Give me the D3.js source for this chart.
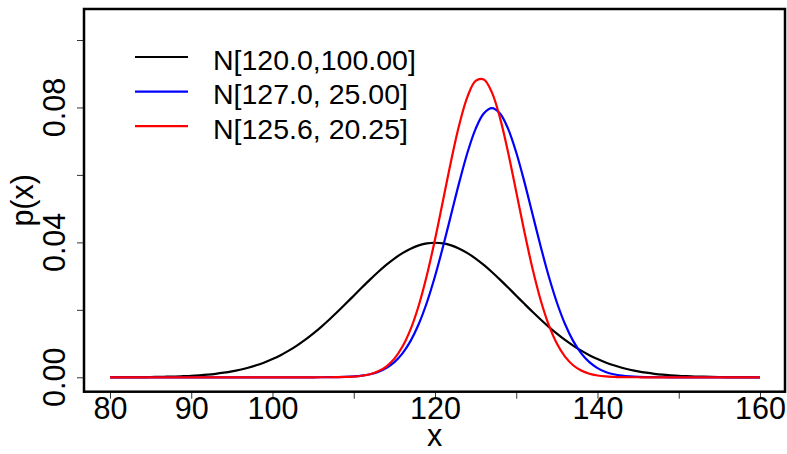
<!DOCTYPE html>
<html>
<head>
<meta charset="utf-8">
<script src="https://cdn.jsdelivr.net/npm/d3@7"></script>
<style>
  body { margin: 0; background: #fff; }
  svg { display: block; font-family: "Liberation Sans", Arial, sans-serif; }
</style>
</head>
<body>
<div id="chart"></div>
<script>
// x grid (step 1) and density values
const xs = d3.range(80, 161);

const blackVals = [
  0.00001, 0.00002, 0.00003, 0.00004, 0.00006, 0.00009, 0.00012, 0.00017, 0.00024, 0.00033,
  0.00044, 0.00060, 0.00079, 0.00104, 0.00136, 0.00175, 0.00224, 0.00283, 0.00355, 0.00440,
  0.00540, 0.00656, 0.00790, 0.00941, 0.01109, 0.01295, 0.01497, 0.01714, 0.01942, 0.02179,
  0.02420, 0.02661, 0.02897, 0.03123, 0.03332, 0.03521, 0.03683, 0.03814, 0.03910, 0.03970,
  0.03989,
  0.03970, 0.03910, 0.03814, 0.03683, 0.03521, 0.03332, 0.03123, 0.02897, 0.02661, 0.02420,
  0.02179, 0.01942, 0.01714, 0.01497, 0.01295, 0.01109, 0.00941, 0.00790, 0.00656, 0.00540,
  0.00440, 0.00355, 0.00283, 0.00224, 0.00175, 0.00136, 0.00104, 0.00079, 0.00060, 0.00044,
  0.00033, 0.00024, 0.00017, 0.00012, 0.00009, 0.00006, 0.00004, 0.00003, 0.00002, 0.00001
];

const blueVals = [
  0, 0, 0, 0, 0, 0, 0, 0, 0, 0,
  0, 0, 0, 0, 0, 0, 0, 0, 0, 0,
  0, 0, 0, 0, 0, 0, 0.00001, 0.00003, 0.00006, 0.00012,
  0.00025, 0.00048, 0.00089, 0.00158, 0.00272, 0.00448, 0.00709, 0.01080, 0.01579, 0.02218,
  0.02995, 0.03884, 0.04839, 0.05794, 0.06665, 0.07365, 0.07821, 0.07979, 0.07821, 0.07365,
  0.06665, 0.05794, 0.04839, 0.03884, 0.02995, 0.02218, 0.01579, 0.01080, 0.00709, 0.00448,
  0.00272, 0.00158, 0.00089, 0.00048, 0.00025, 0.00012, 0.00006, 0.00003, 0.00001, 0,
  0, 0, 0, 0, 0, 0, 0, 0, 0, 0,
  0
];

const redVals = [
  0, 0, 0, 0, 0, 0, 0, 0, 0, 0,
  0, 0, 0, 0, 0, 0, 0, 0, 0, 0,
  0, 0, 0, 0, 0, 0, 0.00001, 0.00002, 0.00004, 0.00010,
  0.00022, 0.00046, 0.00092, 0.00176, 0.00320, 0.00553, 0.00911, 0.01428, 0.02130, 0.03024,
  0.04087, 0.05258, 0.06438, 0.07503, 0.08322, 0.08787, 0.08830, 0.08447, 0.07690, 0.06664,
  0.05497, 0.04315, 0.03225, 0.02293, 0.01553, 0.01000, 0.00613, 0.00358, 0.00199, 0.00105,
  0.00053, 0.00025, 0.00012, 0.00005, 0.00002, 0.00001, 0, 0, 0, 0,
  0, 0, 0, 0, 0, 0, 0, 0, 0, 0,
  0
];

const seriesNames = ["N[120.0,100.00]", "N[127.0, 25.00]", "N[125.6, 20.25]"];
const seriesColors = ["#000000", "#0000ff", "#ff0000"];
const seriesVals = [blackVals, blueVals, redVals];

const xTicks = [80, 90, 100, 110, 120, 130, 140, 150, 160];
const xLabels = [80, 90, 100, 120, 140, 160];
const yTicks = [0, 0.02, 0.04, 0.06, 0.08, 0.10];
const yLabels = ["0.00", "0.04", "0.08"];

(function() {
  const width = 787, height = 454;
  const box = { left: 84, right: 785, top: 9, bottom: 391.7 };

  const svg = d3.select("#chart").append("svg")
    .attr("width", width)
    .attr("height", height);

  const x = d3.scaleLinear().domain([76.8, 163.077]).range([box.left, box.right]);
  const y = d3.scaleLinear().domain([-0.00427, 0.10919]).range([box.bottom, box.top]);

  // Axes (ticks only, labels added separately)
  const xAxis = svg.append("g")
    .attr("transform", `translate(0,${box.bottom})`)
    .call(d3.axisBottom(x).tickValues(xTicks).tickSize(7).tickPadding(-1)
      .tickFormat(d => xLabels.includes(d) ? d : ""));
  xAxis.select(".domain").remove();
  xAxis.selectAll("line").attr("stroke", "#333");
  xAxis.selectAll("text")
    .attr("font-size", "30.5px")
    .attr("font-family", "Liberation Sans, Arial, sans-serif")
    .attr("fill", "#000");

  const yAxis = svg.append("g")
    .attr("transform", `translate(${box.left},0)`)
    .call(d3.axisLeft(y).tickValues(yTicks).tickSize(7).tickFormat(""));
  yAxis.select(".domain").remove();
  yAxis.selectAll("line").attr("stroke", "#333");

  yLabels.forEach(l => {
    svg.append("text")
      .attr("transform", `translate(65,${y(+l)}) rotate(-90)`)
      .attr("text-anchor", "middle")
      .attr("font-size", "30.5px")
      .text(l);
  });

  // Axis titles
  svg.append("text")
    .attr("x", (box.left + box.right) / 2)
    .attr("y", 446)
    .attr("text-anchor", "middle")
    .attr("font-size", "30.5px")
    .text("x");

  svg.append("text")
    .attr("transform", `translate(33,${(box.top + box.bottom) / 2}) rotate(-90)`)
    .attr("text-anchor", "middle")
    .attr("font-size", "30.5px")
    .text("p(x)");

  // Curves
  const line = d3.line()
    .x((d, i) => x(xs[i]))
    .y(d => y(d))
    .curve(d3.curveCatmullRom);

  seriesVals.forEach((vals, k) => {
    svg.append("path")
      .datum(vals)
      .attr("d", line)
      .attr("fill", "none")
      .attr("stroke", seriesColors[k])
      .attr("stroke-width", 2.2);
  });

  // Box
  svg.append("rect")
    .attr("x", box.left)
    .attr("y", box.top)
    .attr("width", box.right - box.left)
    .attr("height", box.bottom - box.top)
    .attr("fill", "none")
    .attr("stroke", "#000")
    .attr("stroke-width", 2.5);

  // Legend
  const legend = svg.append("g");
  seriesNames.forEach((name, k) => {
    const ly = 57 + k * 34.6;
    legend.append("line")
      .attr("x1", 135).attr("x2", 188)
      .attr("y1", ly).attr("y2", ly)
      .attr("stroke", seriesColors[k])
      .attr("stroke-width", 2.2);
    legend.append("text")
      .attr("x", 213)
      .attr("y", ly + 12.5)
      .attr("font-size", "28.5px")
      .style("white-space", "pre")
      .text(name);
  });
})();
</script>
</body>
</html>
